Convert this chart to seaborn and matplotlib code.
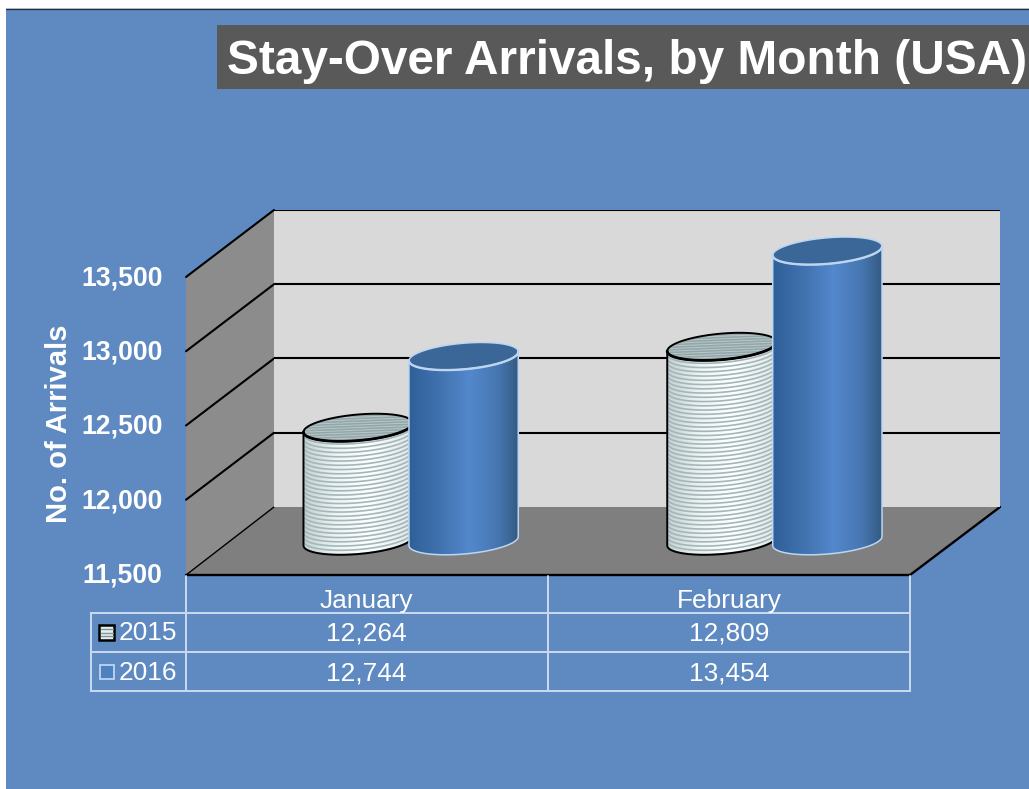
import numpy as np
import pandas as pd
import seaborn as sns
import matplotlib
matplotlib.use("Agg")
import matplotlib.pyplot as plt
from matplotlib.patches import Polygon, Rectangle
from matplotlib.path import Path
from matplotlib.colors import LinearSegmentedColormap

months = ["January", "February"]
years = ["2015", "2016"]
values_2015 = [12264, 12809]
values_2016 = [12744, 13454]
y_ticks = [11500, 12000, 12500, 13000, 13500]
y_labels = ["11,500", "12,000", "12,500", "13,000", "13,500"]
title = "Stay-Over Arrivals, by Month (USA)"
y_title = "No. of Arrivals"

W, H = 1029, 789
BLUE = "#5E89C1"
LINE = "#C9DAF0"
EDGE_2016 = "#BCD6F2"

sns.set_theme(style="white")
plt.rcParams["font.family"] = ["Liberation Sans", "DejaVu Sans"]

fig = plt.figure(figsize=(W / 100, H / 100), dpi=100, facecolor="white")


def axes_px(x0, ytop, x1, ybot, z):
    a = fig.add_axes([x0 / W, 1 - ybot / H, (x1 - x0) / W, (ybot - ytop) / H], zorder=z)
    return a


# ---------- page layer, in pixel layout ----------
bg = axes_px(0, 0, W, H, 0)
bg.set_xlim(0, W)
bg.set_ylim(H, 0)
bg.axis("off")
bg.add_patch(Rectangle((6, 9), W, H, fc=BLUE, ec="none"))
bg.plot([6, W], [9, 9], color="#1F2F45", lw=0.9)
bg.plot([6, W], [8, 8], color="#B0B0B0", lw=0.6)
bg.add_patch(Rectangle((217, 25), W - 217, 64, fc="#595959", ec="none"))
bg.text(227, 61, title, color="white", fontsize=34.38, fontweight="bold", va="center", ha="left")

# walls and floor
bg.add_patch(Polygon([(186, 575), (186, 277), (274, 210), (274, 507)], fc="#8C8C8C", ec="none"))
bg.add_patch(Polygon([(186, 575), (910, 575), (1000, 507), (274, 507)], fc="#7F7F7F", ec="none"))
bg.plot([186, 910, 1000], [575, 575, 507], color="black", lw=1.7, solid_capstyle="round")
bg.plot([186, 274], [575, 507], color="black", lw=1.0)

# ---------- back wall ----------
back = axes_px(274, 210, 1000, 507, 1)
back.set_facecolor("#D9D9D9")
back.set_ylim(y_ticks[0], y_ticks[-1])
back.set_xticks([])
back.set_yticks(y_ticks[1:])
back.tick_params(length=0, labelleft=False)
back.grid(axis="y", color="black", lw=1.5)
sns.despine(ax=back, left=True, bottom=True, right=True, top=True)

# left wall grid, follows the same scale as the back wall
for v in y_ticks[1:]:
    yb = back.transData.transform((0, v))[1]
    yb = H - yb
    bg.plot([186, 274], [yb + 67, yb], color="black", lw=1.5, solid_capstyle="round")

# ---------- front plane: value axis ----------
front = axes_px(186, 275.5, 910, 572.5, 2)
front.patch.set_alpha(0)
front.set_ylim(y_ticks[0], y_ticks[-1])
front.set_xticks([])
front.set_yticks(y_ticks)
front.set_yticklabels(y_labels, color="white", fontsize=19.2, fontweight="bold")
front.tick_params(axis="y", length=0, pad=17)
front.set_ylabel(y_title, color="white", fontsize=21.0, fontweight="bold")
front.yaxis.set_label_coords((73 - 186) / 724, 0.5)
sns.despine(ax=front, left=True, bottom=True, right=True, top=True)

# ---------- bars through seaborn ----------
df = pd.DataFrame({
    "Month": months * 2,
    "Year": [years[0]] * 2 + [years[1]] * 2,
    "Arrivals": values_2015 + values_2016,
})
ax = axes_px(229, 210, 956.5, 541, 3)
ax.patch.set_alpha(0)
sns.barplot(data=df, x="Month", y="Arrivals", hue="Year", hue_order=years, order=months,
            palette=["#DCE6E6", "#4F81BD"], width=0.58, gap=0, legend=False,
            saturation=1, ax=ax)
ax.set_xlim(-0.5, 1.5)
ax.set_ylim(y_ticks[0], y_ticks[0] + 331 / 0.1485)
ax.axis("off")

# ---------- cylinders on top of the bars ----------
ov = axes_px(0, 0, W, H, 4)
ov.set_xlim(0, W)
ov.set_ylim(H, 0)
ov.axis("off")
ov.patch.set_alpha(0)

THETA = np.deg2rad(-5)
B = 13.0
T0 = np.arctan(-(B / 55) * np.tan(THETA))


def ell(cx, cy, a, t):
    t = np.asarray(t)
    x = cx + a * np.cos(t) * np.cos(THETA) - B * np.sin(t) * np.sin(THETA)
    y = cy + a * np.cos(t) * np.sin(THETA) + B * np.sin(t) * np.cos(THETA)
    return np.column_stack([x, y])


cm16 = LinearSegmentedColormap.from_list("c16", [(0, "#2F5F97"), (0.28, "#4172AF"), (0.55, "#5388CC"),
                                                 (0.8, "#4777B2"), (1, "#33587F")])
cm15 = LinearSegmentedColormap.from_list("c15", [(0, "#C4CFCF"), (0.3, "#EEF4F4"), (0.6, "#FFFFFF"),
                                                 (1, "#DDE6E6")])
lower = np.linspace(T0, T0 + np.pi, 60)
upper = np.linspace(T0 + np.pi, T0 + 2 * np.pi, 60)
full = np.linspace(0, 2 * np.pi, 120)

# cylinders are painted left to right so each one hides the end of its neighbour
order = sorted(((bar.get_x(), year, bar) for year, c in zip(years, ax.containers) for bar in c),
               key=lambda r: r[0])
for i, (_, year, bar) in enumerate(order):
    z = 2 + 10 * i
    xc = bar.get_x() + bar.get_width() / 2
    p_top = ax.transData.transform((xc, bar.get_height()))
    p_bot = ax.transData.transform((xc, y_ticks[0]))
    p_edge = ax.transData.transform((bar.get_x(), y_ticks[0]))
    a = abs(p_bot[0] - p_edge[0]) * 1.04
    cx, cy_t, cy_b = p_bot[0], H - p_top[1], H - p_bot[1]

    outline = np.vstack([ell(cx, cy_b, a, lower), ell(cx, cy_t, a, upper)])
    cyl = Path(np.vstack([outline, outline[0]]), closed=True)
    bar.set_clip_path(cyl, ov.transData)
    bar.set_edgecolor("none")

    is15 = year == "2015"
    img = ov.imshow(np.linspace(0, 1, 256)[None, :], cmap=cm15 if is15 else cm16, aspect="auto",
                    extent=(cx - a - 1, cx + a + 1, cy_b + B + 8, cy_t - B - 8), zorder=z)
    img.set_clip_path(cyl, ov.transData)

    ec = "black" if is15 else EDGE_2016
    lw = 1.4 if is15 else 1.1
    if is15:
        for off in np.arange(cy_b + 4.0 - cy_t, 1.5, -4.25):
            pts = ell(cx, cy_t + off, a, lower)
            line, = ov.plot(pts[:, 0], pts[:, 1], color="#A3B7BA", lw=1.2, zorder=z + 1)
            line.set_clip_path(cyl, ov.transData)

    top_pts = ell(cx, cy_t, a, full)
    ov.fill(top_pts[:, 0], top_pts[:, 1], fc="#93A7AA" if is15 else "#3B6798", ec="none", zorder=z + 2)
    if is15:
        top_path = Path(np.vstack([top_pts, top_pts[0]]), closed=True)
        for off in np.arange(-B, B, 2.6):
            pts = np.array([[cx - a, cy_t + off + 2], [cx + a, cy_t + off - 2]])
            line, = ov.plot(pts[:, 0], pts[:, 1], color="#B9C8C9", lw=0.7, zorder=z + 3)
            line.set_clip_path(top_path, ov.transData)
    ov.plot(top_pts[:, 0], top_pts[:, 1], color=ec, lw=lw, zorder=z + 4)
    front_arc = ell(cx, cy_t, a, lower)
    ov.plot(front_arc[:, 0], front_arc[:, 1], color=ec, lw=lw + 0.6, zorder=z + 4)
    lo = ell(cx, cy_b, a, lower)
    side = np.vstack([ell(cx, cy_t, a, [T0]), lo, ell(cx, cy_t, a, [T0 + np.pi])])
    ov.plot(side[:, 0], side[:, 1], color=ec, lw=lw, zorder=z + 4, solid_joinstyle="round")

ov.set_xlim(0, W)
ov.set_ylim(H, 0)

# ---------- data table ----------
rows_y = [613, 652, 691]
for y in rows_y:
    bg.plot([91, 910], [y, y], color=LINE, lw=1.4, solid_capstyle="projecting")
bg.plot([91, 91], [613, 691], color=LINE, lw=1.4)
for x in (185.5, 548, 910):
    bg.plot([x, x], [575.5, 691], color=LINE, lw=1.4)

TXT = dict(color="white", fontsize=18.9, ha="center", va="center")
cols_x = [366.5, 729]
for x, m, v15, v16 in zip(cols_x, months, values_2015, values_2016):
    bg.text(x, 601, m, **TXT)
    bg.text(x, 634, f"{v15:,}", **TXT)
    bg.text(x, 673, f"{v16:,}", **TXT)
bg.text(148, 633.5, years[0], **TXT)
bg.text(148, 672.5, years[1], **TXT)

bg.add_patch(Rectangle((99, 625), 15, 14.5, fc="#E6EEEE", ec="black", lw=1.8))
for y in (629, 632.5, 636):
    bg.plot([100.5, 112.5], [y, y], color="#7F9699", lw=1.0)
bg.add_patch(Rectangle((99.5, 664.5), 14, 14, fc="#4F81BD", ec=EDGE_2016, lw=1.3))

fig.savefig("out.png", dpi=100, facecolor=fig.get_facecolor())
